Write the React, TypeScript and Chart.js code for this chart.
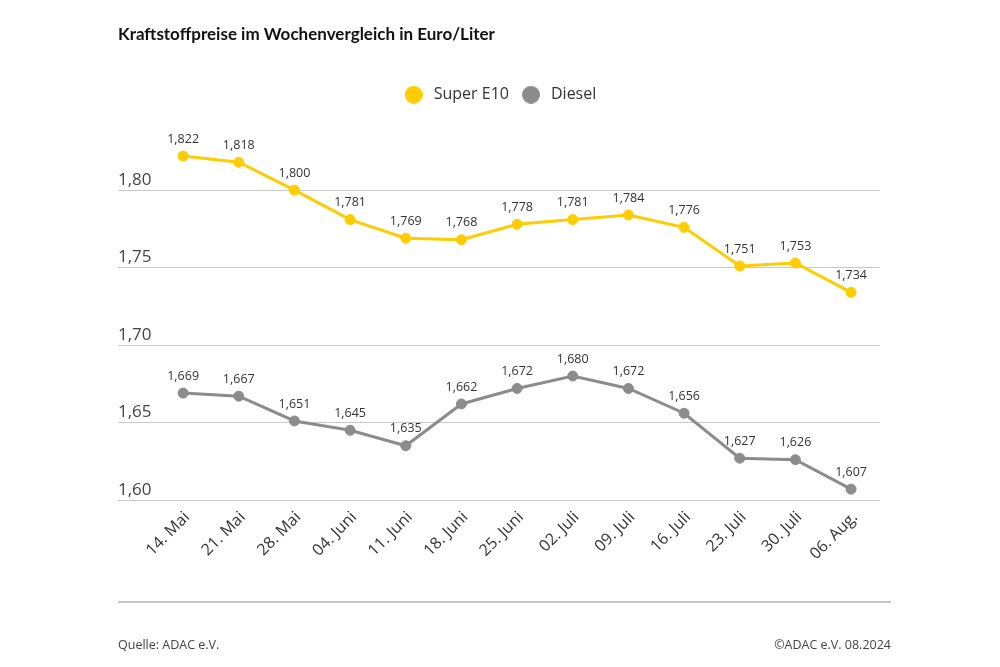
import React, { useEffect, useRef } from "react";
import { Chart, registerables } from "chart.js";

Chart.register(...registerables);

const weekLabels = ["14. Mai", "21. Mai", "28. Mai", "04. Juni", "11. Juni", "18. Juni", "25. Juni", "02. Juli", "09. Juli", "16. Juli", "23. Juli", "30. Juli", "06. Aug."];
const superE10 = [1.822, 1.818, 1.8, 1.781, 1.769, 1.768, 1.778, 1.781, 1.784, 1.776, 1.751, 1.753, 1.734];
const diesel = [1.669, 1.667, 1.651, 1.645, 1.635, 1.662, 1.672, 1.68, 1.672, 1.656, 1.627, 1.626, 1.607];
const yTickValues = [1.6, 1.65, 1.7, 1.75, 1.8];

const TITLE = "Kraftstoffpreise im Wochenvergleich in Euro/Liter";
const SOURCE = "Quelle: ADAC e.V.";
const COPYRIGHT = "©ADAC e.V. 08.2024";

const YELLOW = "#FFCC00";
const GREY = "#8C8C8C";
const FONT = "'Open Sans', 'Noto Sans', sans-serif";

const fmt = (v: number, d: number) => v.toFixed(d).replace(".", ",");

function dot(color: string, d: number) {
  const c = document.createElement("canvas");
  c.width = d;
  c.height = d;
  const ctx = c.getContext("2d")!;
  ctx.fillStyle = color;
  ctx.beginPath();
  ctx.arc(d / 2, d / 2, d / 2, 0, Math.PI * 2);
  ctx.fill();
  return c;
}

const valueLabels = {
  id: "valueLabels",
  afterDatasetsDraw(chart: any) {
    const ctx = chart.ctx;
    ctx.save();
    ctx.font = `12.5px ${FONT}`;
    ctx.fillStyle = "#333";
    ctx.textAlign = "center";
    ctx.textBaseline = "middle";
    chart.data.datasets.forEach((ds: any, di: number) => {
      const meta = chart.getDatasetMeta(di);
      meta.data.forEach((el: any, i: number) => {
        const v = ds.data[i].y;
        ctx.fillText(fmt(v, 3), el.x, el.y - 17);
      });
    });
    ctx.restore();
  },
};

export default function App() {
  const ref = useRef<HTMLCanvasElement>(null);
  useEffect(() => {
    if (!ref.current) return;
    const colors = [YELLOW, GREY];
    const chart = new Chart(ref.current, {
      type: "line",
      data: {
        datasets: [
          {
            label: "Super E10",
            data: superE10.map((v, i) => ({ x: i, y: v })),
            borderColor: YELLOW,
            backgroundColor: YELLOW,
            pointBackgroundColor: YELLOW,
            pointBorderColor: YELLOW,
            borderWidth: 3,
            pointRadius: 5,
            pointBorderWidth: 1,
          },
          {
            label: "Diesel",
            data: diesel.map((v, i) => ({ x: i, y: v })),
            borderColor: GREY,
            backgroundColor: GREY,
            pointBackgroundColor: GREY,
            pointBorderColor: GREY,
            borderWidth: 3,
            pointRadius: 5,
            pointBorderWidth: 1,
          },
        ],
      },
      options: {
        animation: false,
        responsive: false,
        layout: { padding: { top: 0, left: 118, right: 120, bottom: 67 } },
        plugins: {
          title: {
            display: true,
            text: TITLE,
            align: "start",
            color: "#111",
            font: { family: "Lato, " + FONT, size: 17, weight: "bold" },
            padding: { top: 24.5, bottom: 31.8 },
          },
          legend: {
            display: true,
            position: "top",
            labels: {
              usePointStyle: true,
              pointStyleWidth: 24,
              boxHeight: 16,
              color: "#333",
              padding: 10,
              font: { family: FONT, size: 16 },
              generateLabels: (ch: any) => {
                const items = Chart.defaults.plugins.legend.labels.generateLabels(ch);
                return items.map((it: any, i: number) => ({ ...it, pointStyle: dot(colors[i], 18) }));
              },
            },
          },
          tooltip: { enabled: false },
        },
        scales: {
          x: {
            type: "linear",
            min: -1.17,
            max: 12.52,
            grid: { display: false },
            border: { display: false },
            afterBuildTicks: (axis: any) => {
              axis.ticks = weekLabels.map((_, i) => ({ value: i }));
            },
            afterFit: (axis: any) => {
              axis.height = 100;
            },
            ticks: {
              autoSkip: false,
              minRotation: 45,
              maxRotation: 45,
              padding: 0,
              labelOffset: 4,
              color: "#333",
              font: { family: FONT, size: 16 },
              callback: (v: any) => weekLabels[v as number] ?? "",
            },
          },
          y: {
            min: 1.6,
            max: 1.85,
            border: { display: false },
            grid: { color: "#C8C8C8", lineWidth: 1, drawTicks: false },
            afterBuildTicks: (axis: any) => {
              axis.ticks = yTickValues.map((v) => ({ value: v }));
            },
            afterFit: (axis: any) => {
              axis.width = 0;
            },
            ticks: {
              mirror: true,
              padding: 0,
              labelOffset: -10,
              color: "#444",
              font: { family: FONT, size: 17 },
              callback: (v: any) => fmt(Number(v), 2),
            },
          },
        },
      },
      plugins: [valueLabels],
    } as any);
    return () => chart.destroy();
  }, []);

  return (
    <div style={{ position: "fixed", left: 0, top: 0, width: 1000, height: 667, background: "#fff", fontFamily: FONT }}>
      <canvas ref={ref} width={1000} height={667} style={{ position: "absolute", left: 0, top: 0 }} />
      <div style={{ position: "absolute", left: 118, top: 601, width: 773, height: 2, background: "#C4C4C4" }} />
      <div style={{ position: "absolute", left: 118, top: 636, fontSize: 12.5, color: "#444" }}>{SOURCE}</div>
      <div style={{ position: "absolute", right: 109, top: 636, fontSize: 12.5, color: "#444" }}>{COPYRIGHT}</div>
    </div>
  );
}
